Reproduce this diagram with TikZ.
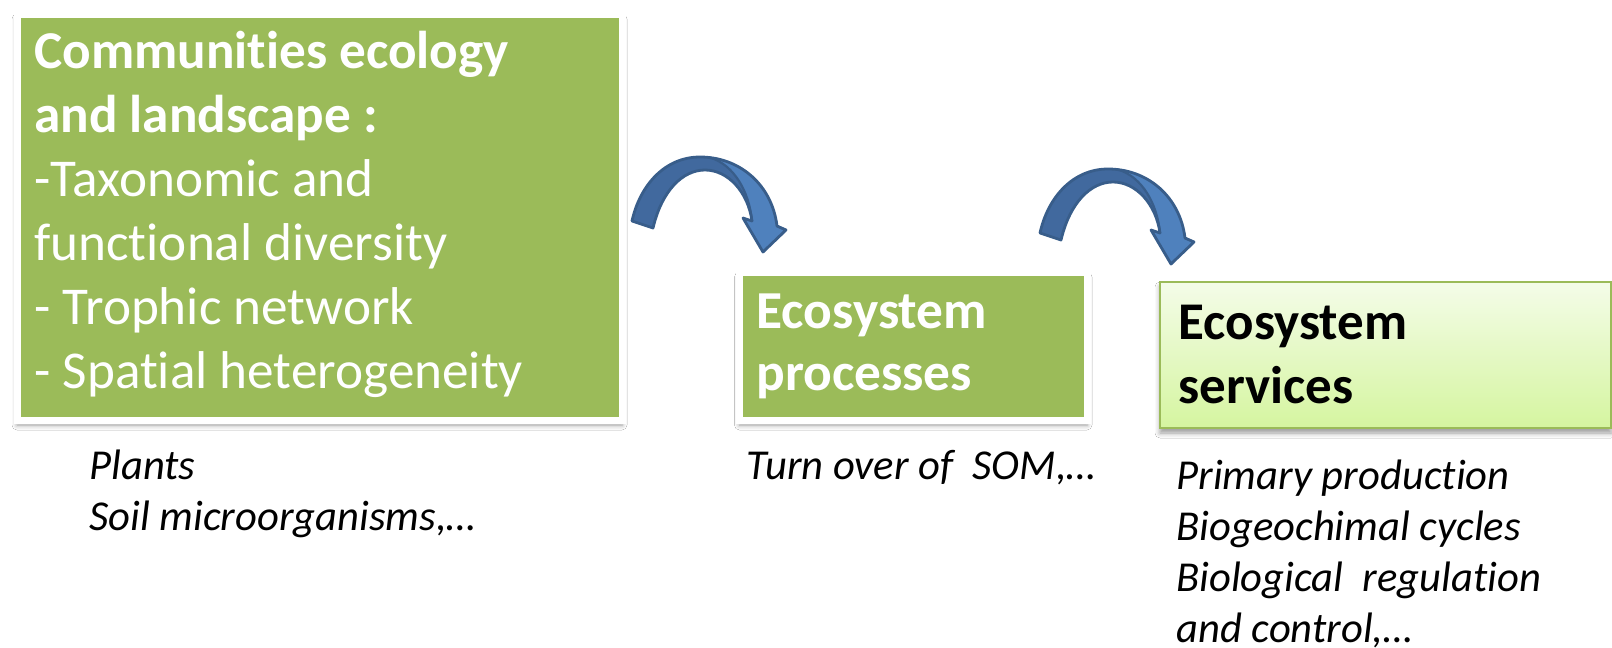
\documentclass[tikz,border=0pt]{standalone}
\usepackage{fontspec}
\setmainfont{Carlito}[Ligatures=NoCommon]
\usetikzlibrary{shadows.blur}

\definecolor{boxgreen}{HTML}{9BBB59}
\definecolor{paletop}{HTML}{F4FCE8}
\definecolor{palebottom}{HTML}{D5F5A0}
\definecolor{arrowdark}{HTML}{41699E}
\definecolor{arrowlight}{HTML}{4F81BD}
\definecolor{arrowline}{HTML}{385D8A}

\tikzset{
  softshadow/.style={blur shadow={shadow xshift=0pt, shadow yshift=-2.5pt,
      shadow blur radius=2.5pt, shadow opacity=40}},
  framedbox/.style={draw=white, line width=3.5pt, fill=boxgreen, inner sep=0pt,
      anchor=north west, softshadow},
  palebox/.style={draw=boxgreen, line width=1pt, top color=paletop,
      bottom color=palebottom, inner sep=0pt, anchor=north west, softshadow},
  % multi-line texts are placed by the baseline of their last line
  boxtext/.style={anchor=base west, inner sep=0pt, align=left},
  note/.style={anchor=base west, inner sep=0pt, align=left,
      font=\fontsize{21.3}{25.5}\selectfont\itshape},
  bentarrow/.pic={
    % whole arrow, darker back side of the ribbon
    \fill[arrowdark] (0,0) .. controls (8,-36) and (33,-64) .. (68,-64)
      .. controls (108,-64) and (140,-36) .. (145,5) -- (154,9) -- (131,31)
      -- (111,-3) -- (120,0) .. controls (116,-29) and (96,-51) .. (73,-51)
      .. controls (51,-51) and (30,-31) .. (21,7) -- cycle;
    % lighter front face of the descending part and the head
    \fill[arrowlight] (78,-63.5) .. controls (102,-56) and (117,-30) .. (120,0)
      -- (111,-3) -- (131,31) -- (154,9) -- (145,5)
      .. controls (141,-30) and (118,-56) .. (78,-63.5) -- cycle;
    \draw[arrowline, line width=1.1pt] (78,-63.5) .. controls (102,-56) and (117,-30) .. (120,0);
    % outline
    \draw[arrowline, line width=1.4pt, line join=round] (0,0)
      .. controls (8,-36) and (33,-64) .. (68,-64)
      .. controls (108,-64) and (140,-36) .. (145,5) -- (154,9) -- (131,31)
      -- (111,-3) -- (120,0) .. controls (116,-29) and (96,-51) .. (73,-51)
      .. controls (51,-51) and (30,-31) .. (21,7) -- cycle;
  }
}

\begin{document}
\begin{tikzpicture}[x=0.5pt, y=-0.5pt]
\useasboundingbox[fill=white] (0,0) rectangle (1612,648);

% the three boxes
\node[framedbox, minimum width=302.5pt, minimum height=203pt] (communities) at (13.5,10.5) {};
\node[framedbox, minimum width=173.75pt, minimum height=74pt] (processes) at (736,268.5) {};
\node[palebox, minimum width=225.5pt, minimum height=73pt] (services) at (1159,281) {};

% box texts
\node[boxtext, text=white, font=\fontsize{26.6}{32}\selectfont] (communitiestext) at (34,388)
  {\textbf{Communities ecology}\\\textbf{and landscape :}\\-Taxonomic and\\functional diversity\\- Trophic network\\- Spatial heterogeneity};
\node[boxtext, text=white, font=\fontsize{26.7}{31}\selectfont\bfseries] (processestext) at (756,390)
  {Ecosystem\\processes};
\node[boxtext, text=black, font=\fontsize{26.5}{32}\selectfont\bfseries] (servicestext) at (1178,403)
  {Ecosystem\\services};

% notes under the boxes
\node[note] (organisms) at (89,530) {Plants\\Soil microorganisms,…};
\node[note] (turnover) at (746,479) {Turn over of\ \ SOM,…};
\node[note] (servicelist) at (1176,642)
  {Primary production\\Biogeochimal cycles\\Biological\ \ regulation\\and control,…};

% curved arrows between the boxes
\pic at (632,221) {bentarrow};
\pic at (1040,233) {bentarrow};
\end{tikzpicture}
\end{document}
